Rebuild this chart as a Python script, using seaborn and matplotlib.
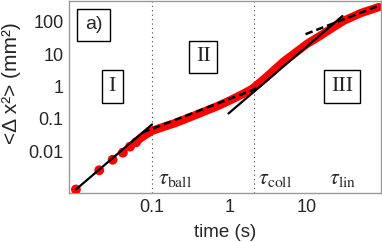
import numpy as np
import pandas as pd
import matplotlib
matplotlib.use('Agg')
import matplotlib.pyplot as plt
import seaborn as sns

time_s = [0.0104, 0.0208, 0.031, 0.042, 0.052, 0.062, 0.07, 0.08, 0.09, 0.1,
          0.15, 0.2, 0.3, 0.5, 0.7, 1.0, 1.5, 2.0, 3.0, 5.0, 7.0, 10.0,
          15.0, 20.0, 30.0, 50.0, 85.0]
msd_mm2 = [0.00066, 0.0026, 0.0055, 0.0091, 0.014, 0.019, 0.025, 0.031, 0.037, 0.043,
           0.06, 0.075, 0.11, 0.18, 0.25, 0.37, 0.6, 0.88, 2.0, 6.0, 11.0, 21.0,
           38.0, 60.0, 110.0, 190.0, 290.0]
n_dots = 6  # first frames drawn as separate dots

# power-law fits (end points)
fit_ball_x = [0.0104, 0.1]
fit_ball_y = [0.00066, 0.068]
fit_diff_x = [0.075, 2.4]
fit_diff_y = [0.038, 0.94]
fit_coll_x = [0.97, 28.7]
fit_coll_y = [0.148, 153.0]
fit_lin_x = [9.6, 81.0]
fit_lin_y = [42.0, 306.0]

tau_ball = 0.1
tau_coll = 2.05

xticks = [0.1, 1, 10]
xticklabels = ['0.1', '1', '10']
yticks = [0.01, 0.1, 1, 10, 100]
yticklabels = ['0.01', '0.1', '1', '10', '100']

sns.set_style('white')
plt.rcParams['font.family'] = ['Liberation Sans', 'DejaVu Sans']
plt.rcParams['mathtext.fontset'] = 'stix'

df = pd.DataFrame({'t': time_s, 'msd': msd_mm2})

fig = plt.figure(figsize=(3.82, 2.42), dpi=100)
ax = fig.add_axes([0.181, 0.202, 0.816, 0.794])
ax.set_xscale('log')
ax.set_yscale('log')

sns.lineplot(data=df.iloc[n_dots - 1:], x='t', y='msd', color='red', lw=6,
             ax=ax, zorder=2)
sns.scatterplot(data=df.iloc[:n_dots], x='t', y='msd', color='red', s=50,
                edgecolor='none', ax=ax, zorder=3)

ax.plot(fit_ball_x, fit_ball_y, color='black', lw=1.6, zorder=4)
ax.plot(fit_diff_x, fit_diff_y, color='black', lw=1.8, ls=(0, (3, 1.6)), zorder=4)
ax.plot(fit_coll_x, fit_coll_y, color='black', lw=1.6, zorder=4)
ax.plot(fit_lin_x, fit_lin_y, color='black', lw=1.8, ls=(0, (3, 1.6)), zorder=4)

for tv in [tau_ball, tau_coll]:
    ax.axvline(tv, color='#444444', lw=0.8, ls=(0, (1, 3)), zorder=1)

ax.set_xlim(0.0085, 90)
ax.set_ylim(5.1e-4, 447)
ax.set_xticks(xticks)
ax.set_xticklabels(xticklabels)
ax.set_yticks(yticks)
ax.set_yticklabels(yticklabels)
ax.minorticks_off()
ax.tick_params(direction='in', length=3, color='#999999', labelsize=13, pad=4)
for sp in ax.spines.values():
    sp.set_color('#999999')
    sp.set_linewidth(1.0)

ax.set_xlabel('time (s)', fontsize=13.5, labelpad=6)
ax.set_ylabel('<Δ x²> (mm²)', fontsize=15)
ax.yaxis.set_label_coords(-0.155, 0.57)

box = dict(boxstyle='square,pad=0.3', fc='white', ec='black', lw=1.0)
ax.text(0.078, 0.875, 'a)', transform=ax.transAxes, fontsize=14, ha='center',
        va='center', bbox=dict(boxstyle='square,pad=0.4', fc='white', ec='black', lw=1.0))
serif = ['Liberation Serif', 'DejaVu Serif']
ax.text(0.138, 0.555, 'I', transform=ax.transAxes, fontsize=16, family=serif,
        ha='center', va='center', bbox=box)
ax.text(0.43, 0.71, 'II', transform=ax.transAxes, fontsize=16, family=serif,
        ha='center', va='center', bbox=box)
ax.text(0.875, 0.555, 'III', transform=ax.transAxes, fontsize=16, family=serif,
        ha='center', va='center', bbox=box)

ax.text(0.34, 0.075, r'$\tau_{\rm ball}$', transform=ax.transAxes, fontsize=16,
        ha='center', va='center')
ax.text(0.66, 0.075, r'$\tau_{\rm coll}$', transform=ax.transAxes, fontsize=16,
        ha='center', va='center')
ax.text(0.877, 0.075, r'$\tau_{\rm lin}$', transform=ax.transAxes, fontsize=16,
        ha='center', va='center')

fig.savefig('out.png', dpi=100)
